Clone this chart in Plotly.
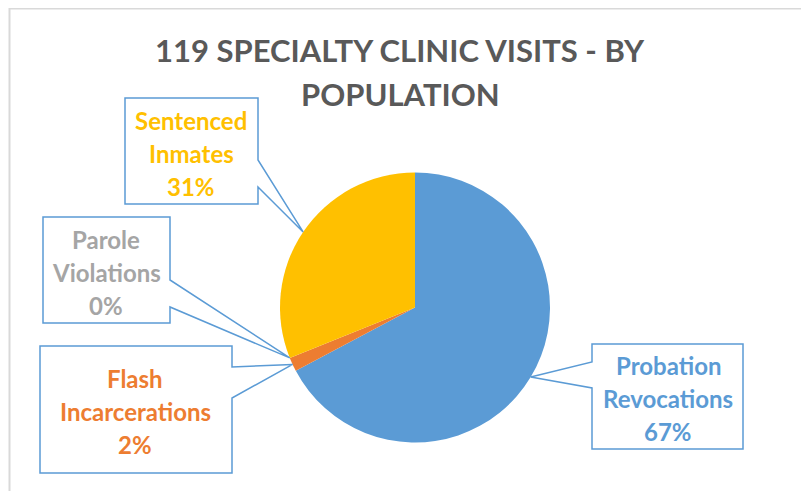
import math
import plotly.graph_objects as go

# data
labels = ["Probation Revocations", "Flash Incarcerations", "Parole Violations", "Sentenced Inmates"]
label_lines = [["Probation", "Revocations"], ["Flash", "Incarcerations"], ["Parole", "Violations"], ["Sentenced", "Inmates"]]
visits = [80, 2, 0, 37]
colors = ["#5B9BD5", "#ED7D31", "#A5A5A5", "#FFC000"]
title_lines = ["119 SPECIALTY CLINIC VISITS - BY", "POPULATION"]

W, H = 809, 491
OFF = 8  # page body margin
cx, cy, r = 415, 307.5, 135
FONT = "Lato"
BLUE = "#5B9BD5"

# callout boxes: left, top, right, bottom, side of wedge, wedge ends, text center
boxes = [
    dict(x0=592, y0=344, x1=743, y1=449, side="left", w0=362, w1=388, tx=668, ty=398),
    dict(x0=40, y0=346, x1=232, y1=473, side="right", w0=367, w1=398, tx=135, ty=411),
    dict(x0=43, y0=217, x1=170, y1=323, side="right", w0=280, w1=307, tx=106, ty=272),
    dict(x0=125, y0=98, x1=258, y1=204, side="right", w0=160, w1=187, tx=191, ty=153),
]

fig = go.Figure()
fig.add_trace(go.Pie(
    labels=labels, values=visits, sort=False, direction="clockwise", rotation=0,
    marker=dict(colors=colors, line=dict(width=0)), textinfo="none", hoverinfo="skip",
    showlegend=False,
    domain=dict(x=[(cx - OFF - r) / W, (cx - OFF + r) / W],
                y=[1 - (cy - OFF + r) / H, 1 - (cy - OFF - r) / H]),
))
# invisible pixel axes for the callouts
fig.add_trace(go.Scatter(x=[OFF, W], y=[OFF, H], mode="markers", marker=dict(opacity=0), hoverinfo="skip", showlegend=False))

total = sum(visits)
cum = 0
shapes = []
annotations = []
for i, v in enumerate(visits):
    frac = (cum + v / 2) / total
    cum += v
    ang = 2 * math.pi * frac
    ax, ay = cx + r * math.sin(ang), cy - r * math.cos(ang)
    b = boxes[i]
    if b["side"] == "right":
        path = (f"M {b['x0']},{b['y0']} L {b['x1']},{b['y0']} L {b['x1']},{b['w0']} L {ax},{ay} "
                f"L {b['x1']},{b['w1']} L {b['x1']},{b['y1']} L {b['x0']},{b['y1']} Z")
    else:
        path = (f"M {b['x0']},{b['y0']} L {b['x1']},{b['y0']} L {b['x1']},{b['y1']} L {b['x0']},{b['y1']} "
                f"L {b['x0']},{b['w1']} L {ax},{ay} L {b['x0']},{b['w0']} Z")
    shapes.append(dict(type="path", path=path, xref="x", yref="y", line=dict(color=BLUE, width=1.5), fillcolor="rgba(0,0,0,0)", layer="above"))
    pct = f"{round(100 * v / total)}%"
    for k, t in enumerate(label_lines[i] + [pct]):
        annotations.append(dict(x=b["tx"], y=b["ty"] + (k - 1) * 33, xref="x", yref="y", text=f"<b>{t}</b>",
                                showarrow=False, font=dict(family=FONT, size=24, color=colors[i])))

for k, t in enumerate(title_lines):
    annotations.append(dict(x=400, y=50 + 44 * k, xref="x", yref="y", text=f"<b>{t}</b>", showarrow=False,
                            font=dict(family=FONT, size=31, color="#595959")))

# chart area border
shapes.append(dict(type="line", x0=9, x1=W + OFF, y0=1 - 0.75 / H, y1=1 - 0.75 / H, xref="x", yref="paper", line=dict(color="#D9D9D9", width=1.5)))
shapes.append(dict(type="line", x0=9.5, x1=9.5, y0=0, y1=1, xref="x", yref="paper", line=dict(color="#D9D9D9", width=2)))

fig.update_layout(
    width=W, height=H, margin=dict(l=0, r=0, t=0, b=0),
    paper_bgcolor="white", plot_bgcolor="rgba(0,0,0,0)",
    xaxis=dict(range=[OFF, W + OFF], visible=False, fixedrange=True),
    yaxis=dict(range=[H + OFF, OFF], visible=False, fixedrange=True),
    shapes=shapes, annotations=annotations,
)
fig.write_html("out.html")
